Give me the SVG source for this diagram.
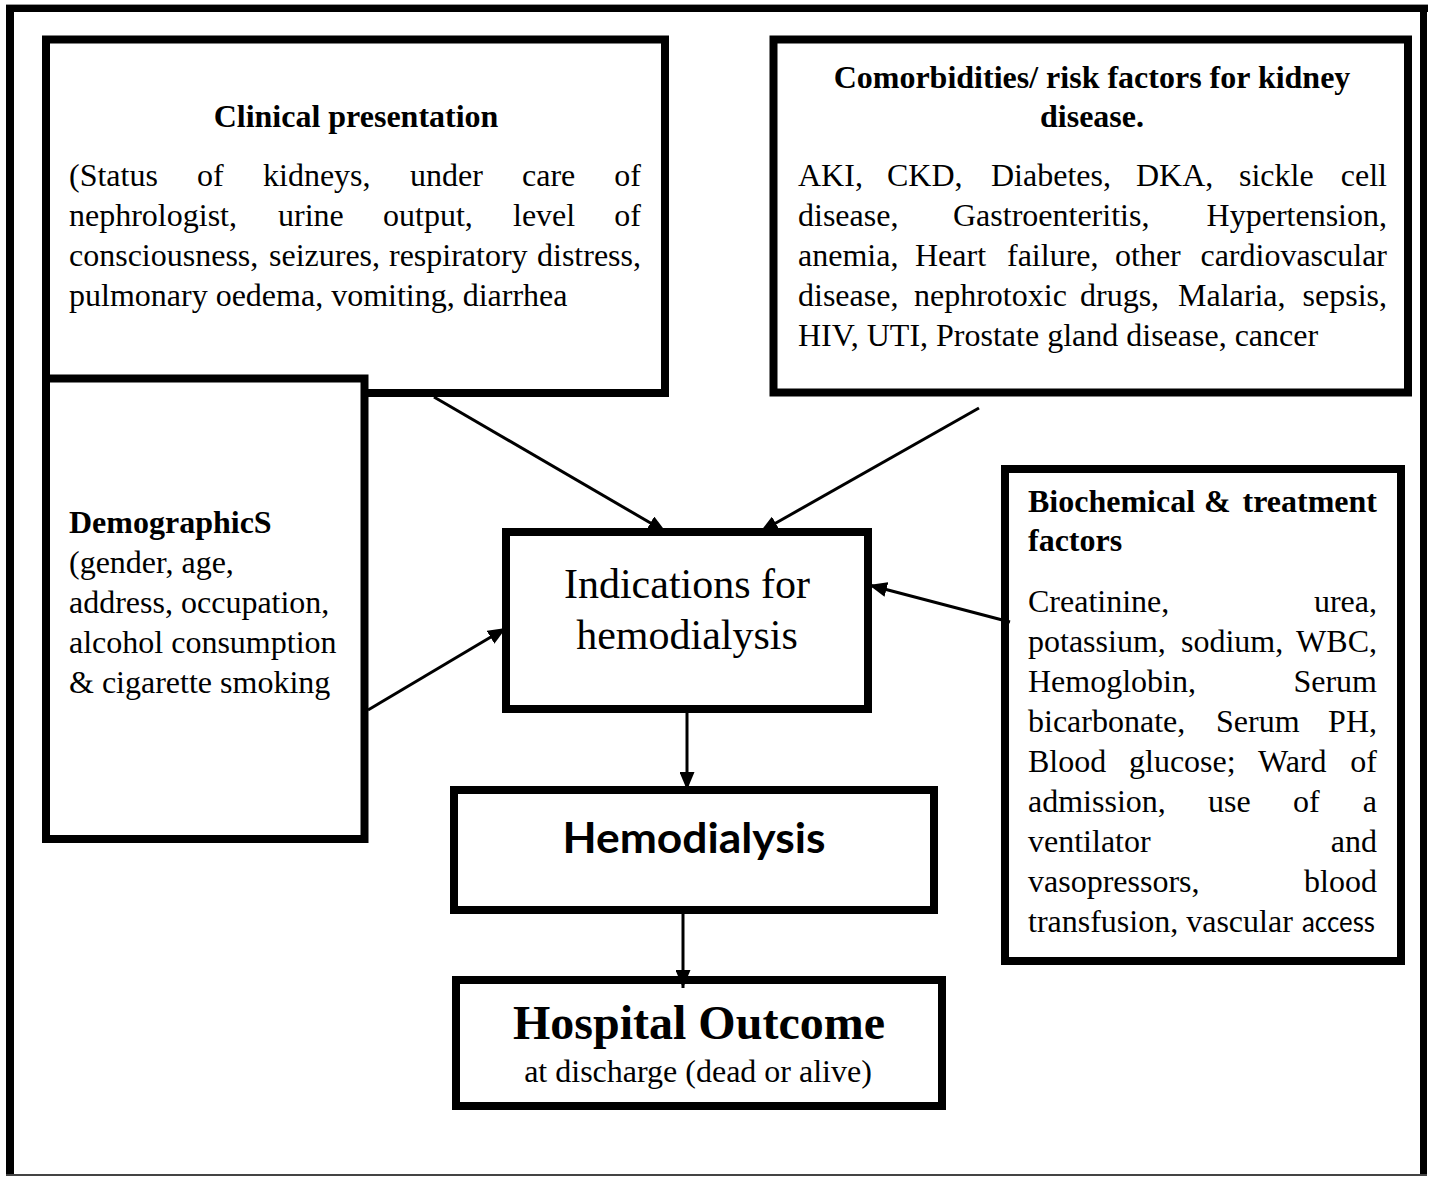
<svg xmlns="http://www.w3.org/2000/svg" width="1432" height="1177" viewBox="0 0 1432 1177">
<defs>
<style>
.box{fill:#fff;stroke:#000;stroke-width:8}
.t{font-family:"Liberation Serif","Times New Roman",serif;font-size:32px;fill:#000}
.b{font-weight:bold}
.e{text-anchor:end}
.m{text-anchor:middle}
.conn{stroke:#000;stroke-width:3;fill:none;marker-end:url(#ah)}
</style>
<marker id="ah" markerUnits="userSpaceOnUse" markerWidth="18" markerHeight="15" refX="18" refY="7.5" orient="auto">
<path d="M0,0 L18,7.5 L0,15 z" fill="#000"/>
</marker>
</defs>
<rect width="1432" height="1177" fill="#fff"/>
<g id="frame">
<line x1="6" y1="4.5" x2="1428" y2="4.5" stroke="#999" stroke-width="1"/>
<rect x="6" y="5" width="1422" height="7" fill="#000"/>
<rect x="6" y="5" width="8" height="1171" fill="#000"/>
<rect x="1420" y="5" width="7" height="1171" fill="#000"/>
<line x1="6" y1="1175" x2="1427" y2="1175" stroke="#444" stroke-width="2"/>
</g>
<g id="clinical">
<rect class="box" x="46" y="39.5" width="619" height="353.5"/>
<text class="t b m" x="356" y="127">Clinical presentation</text>
<text class="t" y="186"><tspan x="69">(Status</tspan><tspan x="197">of</tspan><tspan x="263">kidneys,</tspan><tspan x="410">under</tspan><tspan x="522">care</tspan></text>
<text class="t e" x="641" y="186">of</text>
<text class="t" y="226"><tspan x="69">nephrologist,</tspan><tspan x="278">urine</tspan><tspan x="383">output,</tspan><tspan x="513">level</tspan></text>
<text class="t e" x="641" y="226">of</text>
<text class="t" y="266"><tspan x="69">consciousness,</tspan><tspan x="269">seizures,</tspan><tspan x="389">respiratory</tspan></text>
<text class="t e" x="641" y="266">distress,</text>
<text class="t" x="69" y="306">pulmonary oedema, vomiting, diarrhea</text>
</g>
<g id="comorbidities">
<rect class="box" x="773.5" y="39.5" width="634.5" height="353"/>
<text class="t b m" x="1092" y="88">Comorbidities/ risk factors for kidney</text>
<text class="t b m" x="1092" y="127">disease.</text>
<text class="t" y="186"><tspan x="798">AKI,</tspan><tspan x="887">CKD,</tspan><tspan x="991">Diabetes,</tspan><tspan x="1136">DKA,</tspan><tspan x="1239">sickle</tspan></text>
<text class="t e" x="1387" y="186">cell</text>
<text class="t" y="226"><tspan x="798">disease,</tspan><tspan x="953">Gastroenteritis,</tspan></text>
<text class="t e" x="1387" y="226">Hypertension,</text>
<text class="t" y="266"><tspan x="798">anemia,</tspan><tspan x="915">Heart</tspan><tspan x="1007">failure,</tspan><tspan x="1115">other</tspan></text>
<text class="t e" x="1387" y="266">cardiovascular</text>
<text class="t" y="306"><tspan x="798">disease,</tspan><tspan x="914">nephrotoxic</tspan><tspan x="1080">drugs,</tspan><tspan x="1178">Malaria,</tspan></text>
<text class="t e" x="1387" y="306">sepsis,</text>
<text class="t" x="798" y="346">HIV, UTI, Prostate gland disease, cancer</text>
</g>
<g id="demographics">
<rect class="box" x="46" y="378.5" width="318.5" height="460.5"/>
<text class="t b" x="69" y="533">DemographicS</text>
<text class="t" x="69" y="573">(gender, age,</text>
<text class="t" x="69" y="613">address, occupation,</text>
<text class="t" x="69" y="653">alcohol consumption</text>
<text class="t" x="69" y="693">&amp; cigarette smoking</text>
</g>
<g id="biochemical">
<rect class="box" x="1005" y="469" width="396" height="492"/>
<text class="t b" y="512"><tspan x="1028">Biochemical</tspan><tspan x="1204">&amp;</tspan></text>
<text class="t b e" x="1377" y="512">treatment</text>
<text class="t b" x="1028" y="551">factors</text>
<text class="t" x="1028" y="612">Creatinine,</text>
<text class="t e" x="1377" y="612">urea,</text>
<text class="t" y="652"><tspan x="1028">potassium,</tspan><tspan x="1181">sodium,</tspan></text>
<text class="t e" x="1377" y="652">WBC,</text>
<text class="t" x="1028" y="692">Hemoglobin,</text>
<text class="t e" x="1377" y="692">Serum</text>
<text class="t" y="732"><tspan x="1028">bicarbonate,</tspan><tspan x="1216">Serum</tspan></text>
<text class="t e" x="1377" y="732">PH,</text>
<text class="t" y="772"><tspan x="1028">Blood</tspan><tspan x="1129">glucose;</tspan><tspan x="1258">Ward</tspan></text>
<text class="t e" x="1377" y="772">of</text>
<text class="t" y="812"><tspan x="1028">admission,</tspan><tspan x="1208">use</tspan><tspan x="1293">of</tspan></text>
<text class="t e" x="1377" y="812">a</text>
<text class="t" x="1028" y="852">ventilator</text>
<text class="t e" x="1377" y="852">and</text>
<text class="t" x="1028" y="892">vasopressors,</text>
<text class="t e" x="1377" y="892">blood</text>
<text class="t" x="1028" y="932">transfusion, vascular</text>
<text x="1302" y="932" font-family="Lato, 'Open Sans', sans-serif" font-size="29" textLength="73" lengthAdjust="spacingAndGlyphs" fill="#000">access</text>
</g>
<g id="indications">
<rect class="box" x="506" y="532" width="362" height="177"/>
<text class="t m" x="687" y="598" font-size="42" style="font-size:42px">Indications for</text>
<text class="t m" x="687" y="649" style="font-size:42px">hemodialysis</text>
</g>
<g id="hemodialysis">
<rect class="box" x="454" y="790" width="480" height="120"/>
<text x="694" y="853" text-anchor="middle" font-family="Lato, 'Open Sans', sans-serif" font-weight="bold" font-size="42" textLength="263" lengthAdjust="spacingAndGlyphs" fill="#000">Hemodialysis</text>
</g>
<g id="outcome">
<rect class="box" x="456" y="980" width="486" height="126"/>
<text class="t b m" x="699" y="1039" style="font-size:48px">Hospital Outcome</text>
<text class="t m" x="698" y="1082">at discharge (dead or alive)</text>
</g>
<g id="connectors">
<line class="conn" x1="434" y1="397" x2="666" y2="532"/>
<line class="conn" x1="979" y1="408" x2="760" y2="532"/>
<line class="conn" x1="368" y1="710" x2="506" y2="628"/>
<line class="conn" x1="1010" y1="622" x2="869" y2="585"/>
<line class="conn" x1="687" y1="713" x2="687" y2="790"/>
<line class="conn" x1="683" y1="914" x2="683" y2="988"/>
</g>
</svg>
